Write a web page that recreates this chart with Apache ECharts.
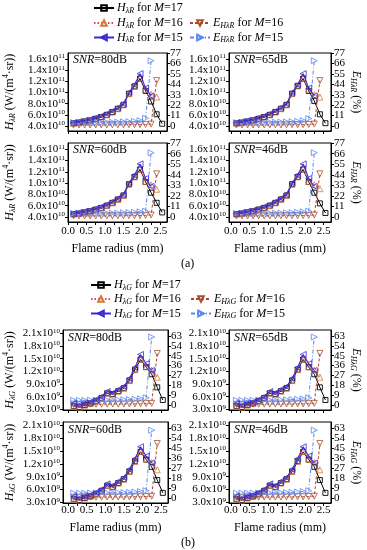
<!DOCTYPE html>
<html><head><meta charset="utf-8">
<script src="https://cdn.jsdelivr.net/npm/echarts@6/dist/echarts.min.js"></script>
<style>html,body{margin:0;padding:0;background:#fff}#c{width:367px;height:550px}</style>
</head><body><div id="c"></div>
<script>
// ---------- DATA ----------
const RADIUS = [0.15,0.30,0.45,0.60,0.75,0.90,1.05,1.20,1.35,1.50,1.65,1.80,1.95,2.10,2.25,2.40,2.55];

// (a) H_lambdaR in 1e10 W/(m^4 sr), E in %
const HR17_80 = [4.5,4.6,4.8,5.0,5.3,5.6,6.0,6.5,7.1,7.8,9.8,11.1,12.5,10.3,8.4,6.1,4.4];
const HR16_80 = [4.5,4.6,4.8,5.0,5.3,5.6,6.0,6.5,7.1,7.8,9.8,11.1,12.6,10.6,9.7,9.2];
const ER16_80 = [1.0,1.0,1.0,1.0,1.1,1.1,1.1,1.2,1.2,1.2,1.3,1.3,1.4,1.6,2.0,48];
const HR15_80 = [4.6,4.8,5.0,5.2,5.5,5.8,6.2,6.7,7.3,8.0,10.0,11.4,13.4,10.8,9.4];
const ER15_80 = [3.6,3.6,3.7,3.7,3.8,3.8,3.9,4.0,4.1,4.3,4.5,4.9,5.6,8.2,69];

const HR17_65 = [4.5,4.6,4.8,5.0,5.3,5.6,6.0,6.5,7.1,7.8,9.8,11.2,12.5,10.3,8.5,6.1,4.5];
const HR16_65 = [4.5,4.6,4.8,5.0,5.3,5.6,6.0,6.5,7.1,7.8,9.8,11.2,12.6,10.6,9.6,9.2];
const ER16_65 = [1.0,1.0,1.0,1.0,1.1,1.1,1.1,1.2,1.2,1.2,1.3,1.3,1.4,1.6,2.0,48];
const HR15_65 = [4.6,4.8,5.0,5.2,5.5,5.8,6.2,6.7,7.3,8.0,10.0,11.4,13.4,10.8,9.4];
const ER15_65 = [3.6,3.6,3.7,3.7,3.8,3.8,3.9,4.0,4.1,4.3,4.5,4.9,5.6,7.8,69];

const HR17_60 = [4.5,4.6,4.8,5.0,5.3,5.6,6.0,6.5,7.1,7.8,9.8,11.1,12.4,10.2,8.3,6.5,4.8];
const HR16_60 = [4.5,4.6,4.8,5.0,5.3,5.6,6.0,6.5,7.1,7.8,9.8,11.1,12.5,10.3,9.7,8.9];
const ER16_60 = [1.0,1.0,1.0,1.0,1.1,1.1,1.1,1.2,1.2,1.2,1.3,1.3,1.4,1.6,2.0,45];
const HR15_60 = [4.6,4.8,5.0,5.2,5.5,5.8,6.2,6.7,7.3,8.0,10.0,11.4,13.4,10.8,9.4];
const ER15_60 = [3.6,3.6,3.7,3.7,3.8,3.8,3.9,4.0,4.1,4.3,4.5,4.9,5.4,6.0,67];

const HR17_46 = [4.5,4.6,4.8,5.0,5.3,5.6,6.0,6.5,7.1,7.8,9.8,11.1,12.4,10.2,8.3,6.4,4.7];
const HR16_46 = [4.5,4.6,4.8,5.0,5.3,5.6,6.0,6.5,7.1,7.8,9.8,11.1,12.5,10.3,9.7,9.0];
const ER16_46 = [1.0,1.0,1.0,1.0,1.1,1.1,1.1,1.2,1.2,1.2,1.3,1.3,1.4,1.6,2.0,45];
const HR15_46 = [4.6,4.8,5.0,5.2,5.5,5.8,6.2,6.7,7.3,8.0,10.0,11.4,13.4,10.8,9.4];
const ER15_46 = [3.6,3.6,3.7,3.7,3.8,3.8,3.9,4.0,4.1,4.3,4.5,4.9,5.4,6.0,67];

// (b) H_lambdaG in 1e9 W/(m^4 sr), E in %
const HG17_80 = [3.8,3.5,4.0,4.4,5.0,5.7,6.8,6.6,7.3,8.0,9.8,12.4,14.8,13.0,11.3,8.2,5.2];
const HG16_80 = [3.8,3.5,4.0,4.4,5.0,5.7,6.8,6.6,7.3,8.0,9.8,12.4,14.9,13.1,12.3,10.6];
const EG16_80 = [0.6,0.6,0.6,0.7,0.7,0.7,0.8,0.8,0.8,0.9,0.9,1.0,1.0,1.2,1.5,47];
const HG15_80 = [4.3,4.0,4.4,4.7,5.3,6.0,7.2,6.9,7.7,8.4,10.3,12.9,16.0,13.8,12.2];
const EG15_80 = [4.2,4.2,4.2,4.3,4.3,4.4,4.4,4.5,4.6,4.7,4.9,5.2,5.6,6.5,62];

const HG17_65 = [3.8,3.5,4.0,4.4,5.0,5.7,6.8,6.6,7.3,8.0,9.8,12.4,14.8,13.0,11.3,8.2,5.2];
const HG16_65 = [3.8,3.5,4.0,4.4,5.0,5.7,6.8,6.6,7.3,8.0,9.8,12.4,14.9,13.1,12.3,10.6];
const EG16_65 = [0.6,0.6,0.6,0.7,0.7,0.7,0.8,0.8,0.8,0.9,0.9,1.0,1.0,1.2,1.5,47];
const HG15_65 = [4.3,4.0,4.4,4.7,5.3,6.0,7.2,6.9,7.7,8.4,10.3,12.9,16.0,13.8,12.2];
const EG15_65 = [4.2,4.2,4.2,4.3,4.3,4.4,4.4,4.5,4.6,4.7,4.9,5.2,5.6,6.5,62];

const HG17_60 = [3.8,3.5,4.0,4.4,5.0,5.7,6.9,6.6,7.5,8.4,10.2,12.6,14.8,13.0,11.3,8.2,5.2];
const HG16_60 = [3.8,3.5,4.0,4.4,5.0,5.7,6.9,6.6,7.5,8.4,10.2,12.6,14.9,13.1,12.3,10.6];
const EG16_60 = [0.6,0.6,0.6,0.7,0.7,0.7,0.8,0.8,0.8,0.9,0.9,1.0,1.0,1.2,1.5,49];
const HG15_60 = [4.3,4.0,4.4,4.7,5.3,6.0,7.3,6.9,7.9,8.8,10.7,13.2,16.0,13.8,12.2];
const EG15_60 = [4.3,4.3,4.3,4.4,4.4,4.5,4.5,4.6,4.7,4.8,5.0,5.3,5.7,6.5,61];

const HG17_46 = [3.8,3.5,4.0,4.4,5.0,5.7,6.9,6.6,7.5,8.4,10.2,12.6,14.8,13.0,11.3,8.2,5.2];
const HG16_46 = [3.8,3.5,4.0,4.4,5.0,5.7,6.9,6.6,7.5,8.4,10.2,12.6,14.9,13.1,12.3,10.6];
const EG16_46 = [0.6,0.6,0.6,0.7,0.7,0.7,0.8,0.8,0.8,0.9,0.9,1.0,1.0,1.2,1.5,49];
const HG15_46 = [4.3,4.0,4.4,4.7,5.3,6.0,7.3,6.9,7.9,8.8,10.7,13.2,16.0,13.8,12.2];
const EG15_46 = [4.3,4.3,4.3,4.4,4.4,4.5,4.5,4.6,4.7,4.8,5.0,5.3,5.7,6.5,61];

// tick values and labels
const R_TICKS = [4,6,8,10,12,14,16];
const R_TICK_LABELS = ['4.0x10^10','6.0x10^10','8.0x10^10','1.0x10^11','1.2x10^11','1.4x10^11','1.6x10^11'];
const ER_TICKS = [0,11,22,33,44,55,66,77];
const G_TICKS = [3,6,9,12,15,18,21];
const G_TICK_LABELS = ['3.0x10^9','6.0x10^9','9.0x10^9','1.2x10^10','1.5x10^10','1.8x10^10','2.1x10^10'];
const EG_TICKS = [0,9,18,27,36,45,54,63];
const X_LABELS = [0,0.5,1.0,1.5,2.0,2.5];
const X_TICKS = [0,0.25,0.5,0.75,1.0,1.25,1.5,1.75,2.0,2.25,2.5];
const SNR_LABELS = ['80dB','65dB','60dB','46dB'];

// ---------- LAYOUT / STYLE ----------
const F = 'Liberation Serif';
const BLACK = '#000';
const PANELS = [
  {fig:'a', snr:0, d:[HR17_80,HR16_80,ER16_80,HR15_80,ER15_80], g:{left:68,top:53,width:99,height:78}, xr:[0,2.68], bottom:false, side:'L'},
  {fig:'a', snr:1, d:[HR17_65,HR16_65,ER16_65,HR15_65,ER15_65], g:{left:229,top:53,width:102,height:78}, xr:[-0.05,2.7], bottom:false, side:'R'},
  {fig:'a', snr:2, d:[HR17_60,HR16_60,ER16_60,HR15_60,ER15_60], g:{left:68,top:143,width:99,height:79}, xr:[0,2.68], bottom:true, side:'L'},
  {fig:'a', snr:3, d:[HR17_46,HR16_46,ER16_46,HR15_46,ER15_46], g:{left:229,top:143,width:102,height:79}, xr:[-0.05,2.7], bottom:true, side:'R'},
  {fig:'b', snr:0, d:[HG17_80,HG16_80,EG16_80,HG15_80,EG15_80], g:{left:63,top:330,width:105,height:80}, xr:[-0.14,2.69], bottom:false, side:'L'},
  {fig:'b', snr:1, d:[HG17_65,HG16_65,EG16_65,HG15_65,EG15_65], g:{left:229,top:330,width:102,height:80}, xr:[-0.05,2.7], bottom:false, side:'R'},
  {fig:'b', snr:2, d:[HG17_60,HG16_60,EG16_60,HG15_60,EG15_60], g:{left:63,top:422,width:105,height:81}, xr:[-0.14,2.69], bottom:true, side:'L'},
  {fig:'b', snr:3, d:[HG17_46,HG16_46,EG16_46,HG15_46,EG15_46], g:{left:229,top:422,width:102,height:81}, xr:[-0.05,2.7], bottom:true, side:'R'}
];
const FIG = {
  a: {hTicks:R_TICKS, hLabels:R_TICK_LABELS, hRange:[3.1,17.1], eTicks:ER_TICKS, eRange:[-5.3,77.2], c:'R', names:['HR17','HR16','ER16','HR15','ER15'], xm:4},
  b: {hTicks:G_TICKS, hLabels:G_TICK_LABELS, hRange:[2.83,21.8], eTicks:EG_TICKS, eRange:[-4.6,68.4], c:'G', names:['HG17','HG16','EG16','HG15','EG15'], xm:2}
};
const clear = 'rgba(255,255,255,0)';
const STYLES = [
  {symbol:'rect', symbolSize:5, lineStyle:{color:'#000', width:1}, itemStyle:{color:clear, borderColor:'#000', borderWidth:0.9}, z:2},
  {symbol:'triangle', symbolSize:6, lineStyle:{color:'#e8413c', width:1, type:[1.5,2]}, itemStyle:{color:clear, borderColor:'#d07a3c', borderWidth:0.8}, z:3},
  {symbol:'triangle', symbolRotate:180, symbolSize:6, lineStyle:{color:'#b0452e', width:1, type:[3,2]}, itemStyle:{color:clear, borderColor:'#a8502e', borderWidth:0.8}, z:3},
  {symbol:'triangle', symbolRotate:90, symbolSize:6, lineStyle:{color:'#3a2bd0', width:1.1}, itemStyle:{color:clear, borderColor:'#3a2bd0', borderWidth:0.8}, z:5},
  {symbol:'triangle', symbolRotate:-90, symbolSize:6, lineStyle:{color:'#5b86f2', width:1, type:[4,2,1,2]}, itemStyle:{color:clear, borderColor:'#5b86f2', borderWidth:0.8}, z:4}
];
const E_INDEX = [false,false,true,false,true];

const labelRich = {
  m:{fontFamily:F, fontSize:11, color:BLACK, lineHeight:12},
  s:{fontFamily:F, fontSize:7, color:BLACK, lineHeight:5, verticalAlign:'top'}
};
const nameRich = {
  i:{fontFamily:F, fontSize:12, fontStyle:'italic', color:BLACK, lineHeight:15},
  n:{fontFamily:F, fontSize:12, color:BLACK, lineHeight:15},
  sub:{fontFamily:F, fontSize:8, fontStyle:'italic', color:BLACK, lineHeight:8, verticalAlign:'bottom'},
  sup:{fontFamily:F, fontSize:8, color:BLACK, lineHeight:8, verticalAlign:'top'}
};
function sci(str){ const p = str.split('^'); return '{m|' + p[0] + '}{s|' + p[1] + '}'; }
function near(vals, v){ let k = 0; vals.forEach((t,j)=>{ if (Math.abs(t-v) < Math.abs(vals[k]-v)) k = j; }); return Math.abs(vals[k]-v) < 1e-6 ? k : -1; }
// sentinel blank labels at the axis ends keep ECharts' min/max label check from hiding real labels
function withEnds(range, vals){ return [range[0]].concat(vals.filter(v => v > range[0] && v < range[1]), [range[1]]); }

const grids = [], xAxes = [], yAxes = [], series = [], titles = [];
PANELS.forEach((P, p) => {
  const FG = FIG[P.fig];
  grids.push(Object.assign({show:true, borderColor:BLACK, borderWidth:1, backgroundColor:'transparent', containLabel:false, outerBoundsMode:'none'}, P.g));
  xAxes.push({
    type:'value', gridIndex:p, min:P.xr[0], max:P.xr[1],
    axisLine:{show:true, onZero:false, lineStyle:{color:BLACK, width:1}},
    axisTick:{show:true, length:3, inside:false, customValues:X_TICKS, lineStyle:{color:BLACK}},
    axisLabel:{show:P.bottom, customValues:X_LABELS, formatter:v=>v.toFixed(1), fontFamily:F, fontSize:11, color:BLACK, margin:FG.xm, showMinLabel:true, showMaxLabel:true, hideOverlap:false},
    splitLine:{show:false},
    name: P.bottom ? 'Flame radius (mm)' : '', nameLocation:'middle', nameGap: P.fig==='a' ? 21 : 19,
    nameTextStyle:{fontFamily:F, fontSize:12, color:BLACK}
  });
  yAxes.push({
    type:'value', gridIndex:p, position:'left', min:FG.hRange[0], max:FG.hRange[1],
    axisLine:{show:true, onZero:false, lineStyle:{color:BLACK, width:1}},
    axisTick:{show:true, length:3, inside:false, customValues:FG.hTicks, lineStyle:{color:BLACK}},
    axisLabel:{customValues:withEnds(FG.hRange, FG.hTicks), formatter:v=>{ const k = near(FG.hTicks, v); return k < 0 ? ' ' : sci(FG.hLabels[k]); },
      margin:3, rich:labelRich, fontFamily:F, fontSize:11, color:BLACK, showMinLabel:false, showMaxLabel:false, hideOverlap:false},
    splitLine:{show:false},
    name: P.side==='L' ? '{i|H}{sub|λ' + FG.c + '}{n| (W/(m}{sup|4}{n|·sr))}' : '',
    nameLocation:'middle', nameRotate:90, nameGap: P.fig==='a' ? 51 : 46,
    nameTextStyle:{rich:nameRich, fontFamily:F, fontSize:12, color:BLACK}
  });
  yAxes.push({
    type:'value', gridIndex:p, position:'right', min:FG.eRange[0], max:FG.eRange[1],
    axisLine:{show:true, onZero:false, lineStyle:{color:BLACK, width:1}},
    axisTick:{show:true, length:3, inside:false, customValues:FG.eTicks, lineStyle:{color:BLACK}},
    axisLabel:{customValues:withEnds(FG.eRange, FG.eTicks), formatter:v=>{ const k = near(FG.eTicks, v); return k < 0 ? ' ' : String(FG.eTicks[k]); },
      margin:3, fontFamily:F, fontSize:11, color:BLACK, showMinLabel:false, showMaxLabel:false, hideOverlap:false},
    splitLine:{show:false},
    name: P.side==='R' ? '{i|E}{sub|Hλ' + FG.c + '}{n| (%)}' : '',
    nameLocation:'middle', nameRotate:-90, nameGap:9,
    nameTextStyle:{rich:nameRich, fontFamily:F, fontSize:12, color:BLACK}
  });
  P.d.forEach((arr, k) => {
    series.push(Object.assign({
      type:'line', name:FG.names[k], xAxisIndex:p, yAxisIndex: 2*p + (E_INDEX[k] ? 1 : 0),
      data: arr.map((v,i)=>[RADIUS[i], v]), animation:false, silent:true, emphasis:{disabled:true}
    }, STYLES[k]));
  });
  titles.push({
    text:'{i|SNR}=' + SNR_LABELS[P.snr], left:P.g.left + 5, top:P.g.top + (P.fig==='a'?1:2), padding:0,
    textStyle:{fontFamily:F, fontSize:12, fontWeight:'normal', color:BLACK, rich:{i:{fontFamily:F, fontSize:12, fontStyle:'italic', color:BLACK}}}
  });
});
titles.push({text:'(a)', left:181, top:258, padding:0, textStyle:{fontFamily:F, fontSize:12, fontWeight:'normal', color:BLACK}});
titles.push({text:'(b)', left:181, top:537, padding:0, textStyle:{fontFamily:F, fontSize:12, fontWeight:'normal', color:BLACK}});

const LEGEND_TEXT = {
  HR17:'{i|H}{sub|λR}{n| for }{i|M}{n|=17}', HR16:'{i|H}{sub|λR}{n| for }{i|M}{n|=16}', HR15:'{i|H}{sub|λR}{n| for }{i|M}{n|=15}',
  ER16:'{i|E}{sub|HλR}{n| for }{i|M}{n|=16}', ER15:'{i|E}{sub|HλR}{n| for }{i|M}{n|=15}',
  HG17:'{i|H}{sub|λG}{n| for }{i|M}{n|=17}', HG16:'{i|H}{sub|λG}{n| for }{i|M}{n|=16}', HG15:'{i|H}{sub|λG}{n| for }{i|M}{n|=15}',
  EG16:'{i|E}{sub|HλG}{n| for }{i|M}{n|=16}', EG15:'{i|E}{sub|HλG}{n| for }{i|M}{n|=15}'
};
const legendRich = {
  i:{fontFamily:F, fontSize:12, fontStyle:'italic', color:BLACK, lineHeight:13},
  n:{fontFamily:F, fontSize:12, color:BLACK, lineHeight:13},
  sub:{fontFamily:F, fontSize:8, fontStyle:'italic', color:BLACK, lineHeight:8, verticalAlign:'bottom'}
};
function lg(data, left, top, vertical){
  return {data, left, top, orient: vertical ? 'vertical' : 'horizontal', itemWidth:20, itemHeight:7, itemGap:2, padding:0,
    selectedMode:false, formatter:n=>LEGEND_TEXT[n], textStyle:{fontFamily:F, fontSize:12, color:BLACK, rich:legendRich, padding:[0,0,0,-2]}};
}
const legends = [
  lg(['HR17'], 93, 2, false), lg(['HR16','HR15'], 93, 17, true), lg(['ER16','ER15'], 189, 17, true),
  lg(['HG17'], 90, 279, false), lg(['HG16','HG15'], 90, 293, true), lg(['EG16','EG15'], 190, 293, true)
];

const chart = echarts.init(document.getElementById('c'), null, {renderer:'canvas'});
chart.setOption({animation:false, backgroundColor:'#fff', title:titles, legend:legends, grid:grids, xAxis:xAxes, yAxis:yAxes, series});
</script></body></html>
